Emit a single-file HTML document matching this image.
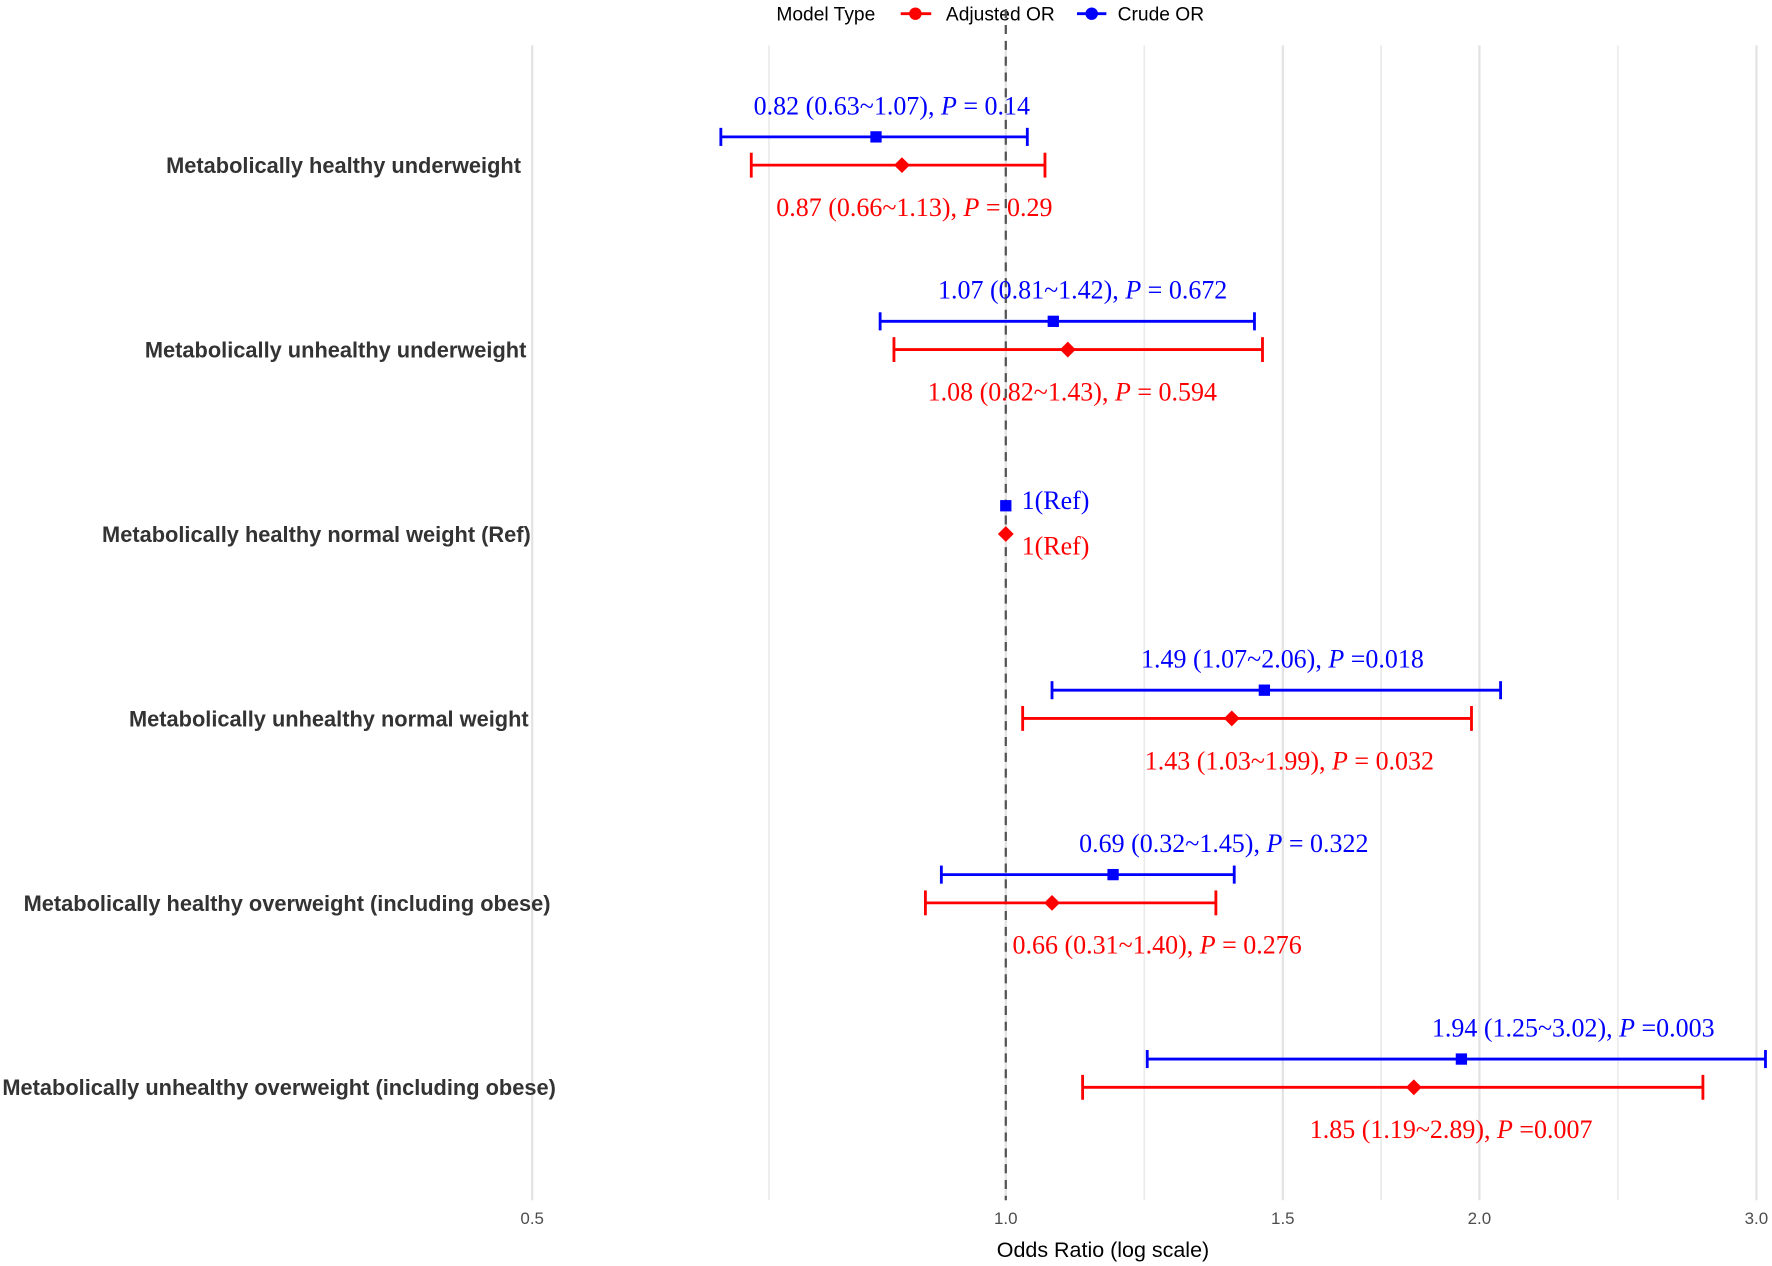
<!DOCTYPE html>
<html><head><meta charset="utf-8"><style>
html,body{margin:0;padding:0;background:#fff;width:1772px;height:1266px;overflow:hidden}
svg{display:block}
.ylab{font-family:"Liberation Sans",sans-serif;font-weight:bold;font-size:19.3px;fill:#333}
.val{font-family:"Liberation Serif",serif;font-size:23px}
.tick{font-family:"Liberation Sans",sans-serif;font-size:15px;fill:#4d4d4d}
.leg{font-family:"Liberation Sans",sans-serif;font-size:17px;fill:#000}
</style></head><body>
<svg id="chart" width="1772" height="1266" viewBox="0 0 1568 1120" xmlns="http://www.w3.org/2000/svg">
<g>
<text class="leg" x="687" y="18">Model Type</text>
<line x1="797" y1="12" x2="824" y2="12" stroke="#f00" stroke-width="2.5"/>
<circle cx="810" cy="12" r="5.5" fill="#f00"/>
<text class="leg" x="837" y="18">Adjusted OR</text>
<line x1="953" y1="12" x2="979" y2="12" stroke="#00f" stroke-width="2.5"/>
<circle cx="966" cy="12" r="5.5" fill="#00f"/>
<text class="leg" x="989" y="18">Crude OR</text>
</g>
<g id="grid"></g><g id="marks"></g>
<text x="976" y="1112" text-anchor="middle" style="font-family:'Liberation Sans',sans-serif;font-size:19px;fill:#000">Odds Ratio (log scale)</text>
</svg>
<script>
const categories=["Metabolically healthy underweight","Metabolically unhealthy underweight","Metabolically healthy normal weight (Ref)","Metabolically unhealthy normal weight","Metabolically healthy overweight (including obese)","Metabolically unhealthy overweight (including obese)"];
const crudeOR=[0.827,1.072,1,1.46,1.17,1.948];
const crudeLo=[0.659,0.832,1,1.07,0.91,1.23];
const crudeHi=[1.032,1.439,1,2.063,1.397,3.04];
const adjOR=[0.859,1.095,1,1.392,1.07,1.817];
const adjLo=[0.689,0.849,1,1.025,0.889,1.119];
const adjHi=[1.059,1.456,1,1.977,1.36,2.774];
const crudeText=[["0.82 (0.63~1.07), ","P"," = 0.14"],["1.07 (0.81~1.42), ","P"," = 0.672"],["1(Ref)","",""],["1.49 (1.07~2.06), ","P"," =0.018"],["0.69 (0.32~1.45), ","P"," = 0.322"],["1.94 (1.25~3.02), ","P"," =0.003"]];
const adjText=[["0.87 (0.66~1.13), ","P"," = 0.29"],["1.08 (0.82~1.43), ","P"," = 0.594"],["1(Ref)","",""],["1.43 (1.03~1.99), ","P"," = 0.032"],["0.66 (0.31~1.40), ","P"," = 0.276"],["1.85 (1.19~2.89), ","P"," =0.007"]];
const majorTicks=[0.5,1.0,1.5,2.0,3.0];
const tickLabels=["0.5","1.0","1.5","2.0","3.0"];
const minorTicks=[0.7071,1.2247,1.7321,2.4495];
// layout
const crudeLabelDx=[14,26,0,16,98,99];
const adjLabelDx=[11,4,0,51,93,33];
const ylabCx=[304,297,280,291,254,247];
const NS="http://www.w3.org/2000/svg";
const x=v=>890+604.6*Math.log(v);
const y=i=>146+i*163.2;
const grid=document.getElementById('grid'),marks=document.getElementById('marks');
function mk(tag,attrs,parent){const e=document.createElementNS(NS,tag);for(const k in attrs)e.setAttribute(k,attrs[k]);parent.appendChild(e);return e;}
minorTicks.forEach(t=>{const l=mk('line',{x1:x(t),x2:x(t),y1:40,y2:1062,stroke:'#ebebeb','stroke-width':1.5},grid);

});
majorTicks.forEach((t,k)=>{const l=mk('line',{x1:x(t),x2:x(t),y1:40,y2:1062,stroke:'#e3e3e3','stroke-width':2},grid);


const tx=mk('text',{x:x(t),y:1083,'text-anchor':'middle',class:'tick'},grid);tx.textContent=tickLabels[k];

});
const ref=mk('line',{x1:x(1),x2:x(1),y1:8,y2:1062,stroke:'#555','stroke-width':2,'stroke-dasharray':'8,6'},grid);


function label(parent,parts,cx,cy,color,anchor){const t=mk('text',{x:cx,y:cy,'text-anchor':anchor,class:'val',fill:color},parent);
const a=mk('tspan',{},t);a.textContent=parts[0];
if(parts[1]){const b=mk('tspan',{'font-style':'italic'},t);b.textContent=parts[1];const c=mk('tspan',{},t);c.textContent=parts[2];}
return t;}
categories.forEach((c,i)=>{
const yl=mk('text',{x:ylabCx[i],y:y(i)+7,'text-anchor':'middle',class:'ylab'},marks);yl.textContent=c;


const yc=y(i)-25,ya=y(i);
const g=mk('g',{},marks);


if(crudeLo[i]!==crudeHi[i]){
mk('line',{x1:x(crudeLo[i]),x2:x(crudeHi[i]),y1:yc,y2:yc,stroke:'#00f','stroke-width':2.5},g);
mk('line',{x1:x(crudeLo[i]),x2:x(crudeLo[i]),y1:yc-8,y2:yc+8,stroke:'#00f','stroke-width':2.5},g);
mk('line',{x1:x(crudeHi[i]),x2:x(crudeHi[i]),y1:yc-8,y2:yc+8,stroke:'#00f','stroke-width':2.5},g);
mk('line',{x1:x(adjLo[i]),x2:x(adjHi[i]),y1:ya,y2:ya,stroke:'#f00','stroke-width':2.5},g);
mk('line',{x1:x(adjLo[i]),x2:x(adjLo[i]),y1:ya-11,y2:ya+11,stroke:'#f00','stroke-width':2.5},g);
mk('line',{x1:x(adjHi[i]),x2:x(adjHi[i]),y1:ya-11,y2:ya+11,stroke:'#f00','stroke-width':2.5},g);
label(g,crudeText[i],x(crudeOR[i])+crudeLabelDx[i],yc-20,'#00f','middle');
label(g,adjText[i],x(adjOR[i])+adjLabelDx[i],ya+45,'#f00','middle');
}else{
label(g,crudeText[i],x(crudeOR[i])+14,yc+3,'#00f','start');
label(g,adjText[i],x(adjOR[i])+14,ya+18,'#f00','start');
}
const sq=mk('rect',{x:x(crudeOR[i])-5,y:yc-5,width:10,height:10,fill:'#00f'},g);


const cx=x(adjOR[i]);
const dm=mk('polygon',{points:`${cx},${ya-7} ${cx+7},${ya} ${cx},${ya+7} ${cx-7},${ya}`,fill:'#f00'},g);


});
</script>
</body></html>
